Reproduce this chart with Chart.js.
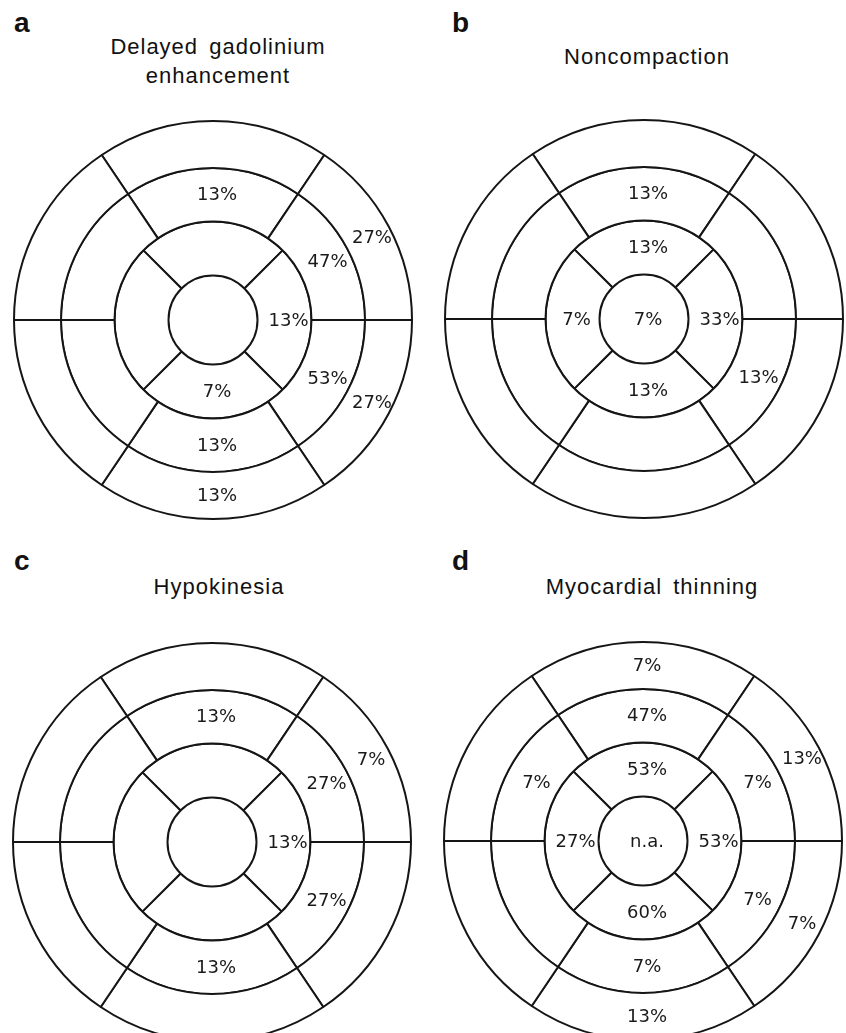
<!DOCTYPE html>
<html>
<head>
<meta charset="utf-8">
<script src="https://cdn.jsdelivr.net/npm/chart.js@4.4.1/dist/chart.umd.min.js"></script>
<style>
  html, body { margin: 0; padding: 0; background: #ffffff; }
  body { width: 846px; height: 1033px; position: relative; overflow: hidden; }
  .letter { position: absolute; font: bold 28px "Liberation Sans", Arial, sans-serif; color: #111; line-height: 1; }
  .title { position: absolute; width: 320px; text-align: center; font: 22px "Liberation Sans", Arial, sans-serif; color: #111; line-height: 29px; letter-spacing: 1px; word-spacing: 4px; }
  .panel { position: absolute; width: 400px; height: 400px; }
</style>
</head>
<body>

<div class="letter" style="left:14px; top:9px;">a</div>
<div class="title" style="left:58px; top:32px;">Delayed gadolinium<br>enhancement</div>
<div class="letter" style="left:452px; top:9px;">b</div>
<div class="title" style="left:487px; top:42px;">Noncompaction</div>
<div class="letter" style="left:14px; top:547px;">c</div>
<div class="title" style="left:59px; top:572px;">Hypokinesia</div>
<div class="letter" style="left:452px; top:547px;">d</div>
<div class="title" style="left:492px; top:572px;">Myocardial thinning</div>

<div class="panel" style="left:13px; top:120px;"><canvas id="chartA" width="400" height="400"></canvas></div>
<div class="panel" style="left:444px; top:119px;"><canvas id="chartB" width="400" height="400"></canvas></div>
<div class="panel" style="left:12px; top:642px;"><canvas id="chartC" width="400" height="400"></canvas></div>
<div class="panel" style="left:443px; top:641px;"><canvas id="chartD" width="400" height="400"></canvas></div>

<script>
// segments of the 17-segment model, clockwise starting at the top
var BasalSegments = ['Basal anterior', 'Basal anterolateral', 'Basal inferolateral', 'Basal inferior', 'Basal inferoseptal', 'Basal anteroseptal']
var MidSegments = ['Mid anterior', 'Mid anterolateral', 'Mid inferolateral', 'Mid inferior', 'Mid inferoseptal', 'Mid anteroseptal']
var ApicalSegments = ['Apical anterior', 'Apical lateral', 'Apical inferior', 'Apical septal']
var ApexSegments = ['Apex']

// a - Delayed gadolinium enhancement (%)
var Dge_Basal = [null, 27, 27, 13, null, null]
var Dge_Mid = [13, 47, 53, 13, null, null]
var Dge_Apical = [null, 13, 7, null]
var Dge_Apex = [null]

// b - Noncompaction (%)
var Ncp_Basal = [null, null, null, null, null, null]
var Ncp_Mid = [13, null, 13, null, null, null]
var Ncp_Apical = [13, 33, 13, 7]
var Ncp_Apex = [7]

// c - Hypokinesia (%)
var Hypo_Basal = [null, 7, null, null, null, null]
var Hypo_Mid = [13, 27, 27, 13, null, null]
var Hypo_Apical = [null, 13, null, null]
var Hypo_Apex = [null]

// d - Myocardial thinning (%)
var Thin_Basal = [7, 13, 7, 13, null, null]
var Thin_Mid = [47, 7, 7, 7, null, 7]
var Thin_Apical = [53, 53, 60, 27]
var Thin_Apex = ['n.a.']

// angular size of the drawn segments (deg) - the drawing is not exactly 60/60
var SixRingSpan = [68, 56, 56, 68, 56, 56]

var SegmentLabels = {
    id: 'SegmentLabels',
    afterDatasetsDraw: function (chart, args, opts) {
        var ctx = chart.ctx;
        ctx.save();
        ctx.font = opts.font;
        ctx.fillStyle = opts.color;
        ctx.textAlign = 'center';
        ctx.textBaseline = 'middle';
        chart.data.datasets.forEach(function (ds, di) {
            var meta = chart.getDatasetMeta(di);
            meta.data.forEach(function (arc, i) {
                var v = ds.percent[i];
                if (v === null || v === undefined) return;
                var p;
                if (arc.circumference >= Math.PI * 2 - 0.001)
                    p = { x: arc.x, y: arc.y };   // full disc (apex)
                else
                    p = arc.tooltipPosition();
                var text = (typeof v === 'number') ? v + '%' : v;
                ctx.fillText(text, p.x + opts.dx, p.y + opts.dy);
            });
        });
        ctx.restore();
    }
}

function Ring(segments, percent, weight, rotation, border) {
    var span = segments.length == 6 ? SixRingSpan : segments.map(function () { return 1 });
    return {
        label: segments.length + ' segments',
        data: span,
        percent: percent,
        weight: weight,
        rotation: rotation,
        backgroundColor: '#ffffff',
        borderColor: '#151515',
        borderWidth: border,
        hoverBackgroundColor: '#ffffff',
        hoverBorderColor: '#151515',
        hoverBorderWidth: border,
        hoverOffset: 0
    }
}

function BullsEye(id, basal, mid, apical, apex) {
    var el = document.getElementById(id).getContext('2d');
    return new Chart(el, {
        type: 'doughnut',
        data: {
            labels: BasalSegments,
            datasets: [
                Ring(BasalSegments, basal, 47, -34, 2),
                Ring(MidSegments, mid, 53.5, -34, 2),
                Ring(ApicalSegments, apical, 54, -45, 2),
                Ring(ApexSegments, apex, 44.5, 0, 0)   // its outline comes from the apical ring
            ]
        },
        plugins: [SegmentLabels],
        options: {
            responsive: false,
            animation: false,
            devicePixelRatio: 1,
            events: [],
            cutout: 0,
            layout: { padding: 0 },
            plugins: {
                legend: { display: false },
                tooltip: { enabled: false },
                SegmentLabels: {
                    font: '18px "DejaVu Sans", Verdana, sans-serif',
                    color: '#1a1a1a',
                    dx: 4,
                    dy: 1
                }
            }
        }
    })
}

BullsEye('chartA', Dge_Basal, Dge_Mid, Dge_Apical, Dge_Apex)
BullsEye('chartB', Ncp_Basal, Ncp_Mid, Ncp_Apical, Ncp_Apex)
BullsEye('chartC', Hypo_Basal, Hypo_Mid, Hypo_Apical, Hypo_Apex)
BullsEye('chartD', Thin_Basal, Thin_Mid, Thin_Apical, Thin_Apex)
</script>
</body>
</html>
